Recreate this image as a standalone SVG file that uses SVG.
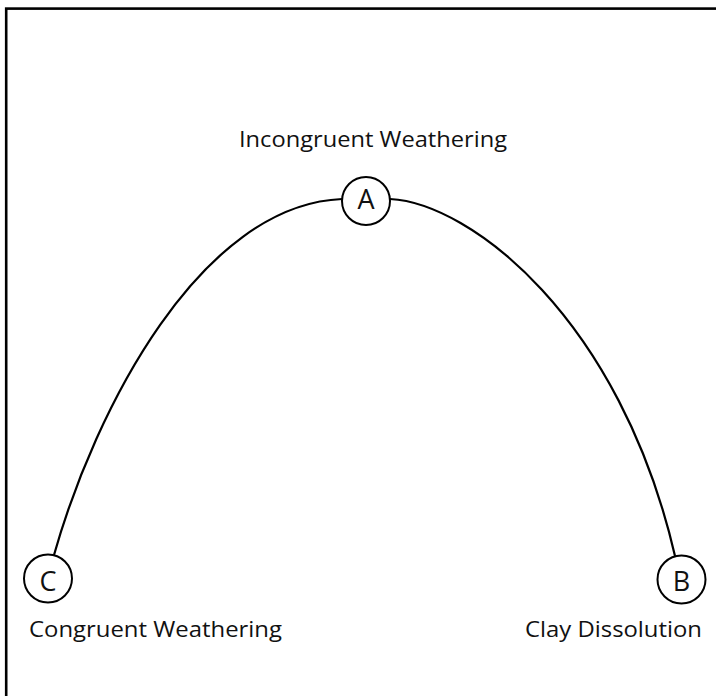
<svg xmlns="http://www.w3.org/2000/svg" width="716" height="696" viewBox="0 0 716 696">
<style>
.node{fill:#fff;stroke:#000;stroke-width:2}
.lbl{font-family:"Open Sans","Liberation Sans",sans-serif;font-size:22px;fill:#111}
.ltr{font-family:"Open Sans","Liberation Sans",sans-serif;font-size:27px;fill:#111;text-anchor:middle}
.edge{fill:none;stroke:#000;stroke-width:2.2}
</style>
<rect x="0" y="0" width="716" height="696" fill="#fff"/>
<rect x="6.2" y="8.6" width="720" height="700" fill="none" stroke="#000" stroke-width="2.6"/>
<g id="connectors">
<path class="edge" d="M54,555 C95,410 200,205 342,199"/>
<path class="edge" d="M390,199 C470,203 620,318 675,556"/>
</g>
<g id="node-A">
<circle class="node" cx="366" cy="201" r="24"/>
<text class="ltr" x="366" y="209">A</text>
<text class="lbl" x="239" y="147" textLength="268" lengthAdjust="spacingAndGlyphs">Incongruent Weathering</text>
</g>
<g id="node-C">
<circle class="node" cx="48" cy="578.5" r="24"/>
<text class="ltr" x="48" y="591">C</text>
<text class="lbl" x="29" y="637" textLength="253" lengthAdjust="spacingAndGlyphs">Congruent Weathering</text>
</g>
<g id="node-B">
<circle class="node" cx="681.5" cy="579.5" r="24"/>
<text class="ltr" x="681.5" y="591">B</text>
<text class="lbl" x="525" y="637" textLength="177" lengthAdjust="spacingAndGlyphs">Clay Dissolution</text>
</g>
</svg>
